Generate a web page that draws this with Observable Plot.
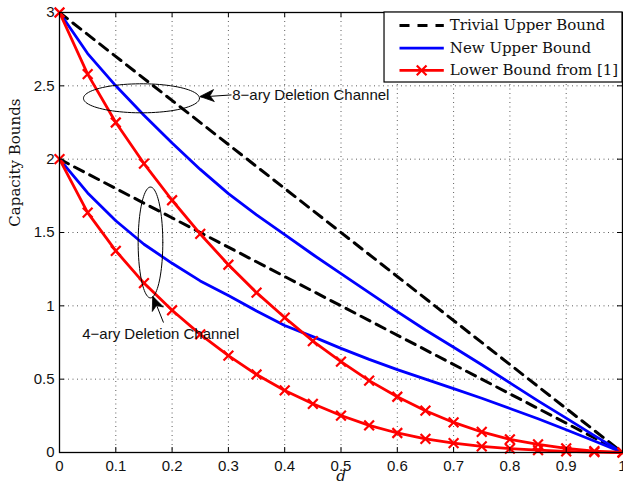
<!DOCTYPE html>
<html>
<head>
<meta charset="utf-8">
<script src="https://cdn.jsdelivr.net/npm/d3@7"></script>
<script src="https://cdn.jsdelivr.net/npm/@observablehq/plot@0.6"></script>
<style>
  html, body { margin: 0; padding: 0; background: #fff; }
</style>
</head>
<body>
<div id="chart"></div>
<script>
// ---------- data ----------
const dValues = [0, 0.05, 0.1, 0.15, 0.2, 0.25, 0.3, 0.35, 0.4, 0.45, 0.5,
                 0.55, 0.6, 0.65, 0.7, 0.75, 0.8, 0.85, 0.9, 0.95, 1];
const trivialD = [0, 1];
const trivial8 = [3, 0];
const trivial4 = [2, 0];
const newUpper8 = [3, 2.72, 2.50, 2.30, 2.11, 1.93, 1.765, 1.62, 1.485, 1.35, 1.22,
                   1.09, 0.96, 0.835, 0.718, 0.598, 0.475, 0.352, 0.234, 0.115, 0];
const newUpper4 = [2, 1.77, 1.58, 1.42, 1.29, 1.17, 1.07, 0.965, 0.866, 0.79, 0.71,
                   0.635, 0.565, 0.50, 0.435, 0.37, 0.30, 0.23, 0.155, 0.078, 0];
const lower8 = [3, 2.58, 2.25, 1.97, 1.72, 1.49, 1.28, 1.09, 0.92, 0.76, 0.62,
                0.49, 0.38, 0.285, 0.205, 0.14, 0.09, 0.055, 0.028, 0.01, 0];
const lower4 = [2, 1.635, 1.375, 1.155, 0.97, 0.805, 0.66, 0.532, 0.423, 0.332, 0.252,
                0.185, 0.133, 0.093, 0.064, 0.042, 0.027, 0.016, 0.008, 0.003, 0];
const xTicks = [0, 0.1, 0.2, 0.3, 0.4, 0.5, 0.6, 0.7, 0.8, 0.9, 1];
const xTickLabels = ["0", "0.1", "0.2", "0.3", "0.4", "0.5", "0.6", "0.7", "0.8", "0.9", "1"];
const yTicks = [0, 0.5, 1, 1.5, 2, 2.5, 3];
const yTickLabels = ["0", "0.5", "1", "1.5", "2", "2.5", "3"];
const legendLabels = ["Trivial Upper Bound", "New Upper Bound", "Lower Bound from [1]"];
const annotationLabels = ["8\u2212ary Deletion Channel", "4\u2212ary Deletion Channel"];
const xLabel = "d";
const yLabel = "Capacity Bounds";

// ---------- layout ----------
const W = 623, H = 490, ML = 59, MR = 1, MT = 12, MB = 38;
const SANS = "'Liberation Sans', Arial, Helvetica, sans-serif";
const SERIF = "'DejaVu Serif', 'Liberation Serif', serif";
const RED = "#ff0000", BLUE = "#0000ff", BLACK = "#000000";

const rows = (ys, xs = dValues) => xs.map((x, i) => ({x, y: ys[i]}));

// annotation geometry in data units
const ell8 = {cx: 0.1456, cy: 2.415, rx: 0.103, ry: 0.099};
const ell4 = {cx: 0.1616, cy: 1.432, rx: 0.0219, ry: 0.378};
const ellipse = e => d3.range(0, 361, 4).map(a => ({
  x: e.cx + e.rx * Math.cos(a * Math.PI / 180),
  y: e.cy + e.ry * Math.sin(a * Math.PI / 180)
}));
const arrows = [
  {x1: 0.3055, y1: 2.438, x2: 0.2504, y2: 2.424},
  {x1: 0.1847, y1: 0.886, x2: 0.1664, y2: 1.062}
];
const annot = [
  {x: 0.3068, y: 2.434, text: annotationLabels[0]},
  {x: 0.0403, y: 0.8045, text: annotationLabels[1]}
];
// legend geometry in data units
const legBox = {x1: 0.5773, x2: 1.0, y1: 2.5227, y2: 3.0};
const legRowsY = [2.911, 2.757, 2.605];
const legLineX = [0.6039, 0.6826];
const legTextX = 0.6932;

const hPlot = H - MT - MB;
const wPlot = W - ML - MR;

const chart = Plot.plot({
  width: W, height: H,
  marginLeft: ML, marginRight: MR, marginTop: MT, marginBottom: MB,
  x: {domain: [0, 1], axis: null},
  y: {domain: [0, 3], axis: null},
  style: {background: "#fff", fontFamily: SANS},
  marks: [
    // grid
    Plot.ruleX(xTicks.slice(1, -1), {stroke: "#333", strokeWidth: 0.8, strokeDasharray: "1,3.5"}),
    Plot.ruleY(yTicks.slice(1, -1), {stroke: "#333", strokeWidth: 0.8, strokeDasharray: "1,3.5"}),
    // trivial upper bounds
    Plot.line(rows(trivial8, trivialD), {x: "x", y: "y", stroke: BLACK, strokeWidth: 3, strokeDasharray: "10,7"}),
    Plot.line(rows(trivial4, trivialD), {x: "x", y: "y", stroke: BLACK, strokeWidth: 3, strokeDasharray: "10,7"}),
    // new upper bounds
    Plot.line(rows(newUpper8), {x: "x", y: "y", stroke: BLUE, strokeWidth: 2.8}),
    Plot.line(rows(newUpper4), {x: "x", y: "y", stroke: BLUE, strokeWidth: 2.8}),
    // lower bounds
    Plot.line(rows(lower8), {x: "x", y: "y", stroke: RED, strokeWidth: 2.8}),
    Plot.line(rows(lower4), {x: "x", y: "y", stroke: RED, strokeWidth: 2.8}),
    Plot.dot(rows(lower8), {x: "x", y: "y", symbol: "times", r: 4.5, stroke: RED, strokeWidth: 2.2}),
    Plot.dot(rows(lower4), {x: "x", y: "y", symbol: "times", r: 4.5, stroke: RED, strokeWidth: 2.2}),
    // annotations
    Plot.line(ellipse(ell8), {x: "x", y: "y", stroke: BLACK, strokeWidth: 1}),
    Plot.line(ellipse(ell4), {x: "x", y: "y", stroke: BLACK, strokeWidth: 1}),
    Plot.link(arrows, {x1: "x1", y1: "y1", x2: "x2", y2: "y2", stroke: BLACK, strokeWidth: 1}),
    Plot.text(annot, {x: "x", y: "y", text: "text", textAnchor: "start", lineAnchor: "middle",
                      fontSize: 15, fontFamily: SANS, fill: "#111"}),
    // frame
    Plot.frame({stroke: BLACK, strokeWidth: 1.3}),
    // inward ticks
    Plot.ruleX(xTicks, {stroke: BLACK, strokeWidth: 1, insetTop: hPlot - 5}),
    Plot.ruleX(xTicks, {stroke: BLACK, strokeWidth: 1, insetBottom: hPlot - 5}),
    Plot.ruleY(yTicks, {stroke: BLACK, strokeWidth: 1, insetRight: wPlot - 5}),
    Plot.ruleY(yTicks, {stroke: BLACK, strokeWidth: 1, insetLeft: wPlot - 5}),
    // tick labels
    Plot.text(xTicks, {x: d => d, frameAnchor: "bottom", dy: 14, lineAnchor: "middle",
                       text: (d, i) => xTickLabels[i], fontSize: 15, fontFamily: SANS, fill: "#111"}),
    Plot.text(yTicks, {y: d => d, frameAnchor: "left", dx: -5, textAnchor: "end", lineAnchor: "middle",
                       text: (d, i) => yTickLabels[i], fontSize: 15, fontFamily: SANS, fill: "#111"}),
    // axis labels
    Plot.text([xLabel], {frameAnchor: "bottom", x: 0.5, dy: 24, lineAnchor: "middle", text: d => d,
                         fontSize: 15, fontFamily: SERIF, fontStyle: "italic", fill: "#111"}),
    Plot.text([yLabel], {frameAnchor: "left", y: 1.54, dx: -44, rotate: -90, lineAnchor: "middle",
                         text: d => d, fontSize: 15, fontFamily: SERIF, fill: "#111"}),
    // legend
    Plot.rect([legBox], {x1: "x1", x2: "x2", y1: "y1", y2: "y2", fill: "#fff", stroke: BLACK, strokeWidth: 1.2}),
    Plot.link([legRowsY[0]], {x1: legLineX[0], x2: legLineX[1], y1: d => d, y2: d => d,
                              stroke: BLACK, strokeWidth: 3, strokeDasharray: "10,8"}),
    Plot.link([legRowsY[1]], {x1: legLineX[0], x2: legLineX[1], y1: d => d, y2: d => d,
                              stroke: BLUE, strokeWidth: 2.8}),
    Plot.link([legRowsY[2]], {x1: legLineX[0], x2: legLineX[1], y1: d => d, y2: d => d,
                              stroke: RED, strokeWidth: 2.8}),
    Plot.dot([legRowsY[2]], {x: (legLineX[0] + legLineX[1]) / 2, y: d => d, symbol: "times", r: 4.5,
                             stroke: RED, strokeWidth: 2.2}),
    Plot.text(legRowsY, {x: legTextX, y: d => d, text: (d, i) => legendLabels[i], textAnchor: "start",
                         lineAnchor: "middle", fontSize: 15, fontFamily: SERIF, fill: "#111"})
  ]
});

document.getElementById("chart").appendChild(chart);

// arrowheads (filled), drawn with the same linear mapping as the plot
const X = d3.scaleLinear([0, 1], [ML, W - MR]);
const Y = d3.scaleLinear([0, 3], [H - MB, MT]);
const svg = d3.select(chart.tagName.toLowerCase() === "svg" ? chart : chart.querySelector("svg"));
arrows.forEach(a => {
  const tx = X(a.x2), ty = Y(a.y2), sx = X(a.x1), sy = Y(a.y1);
  const dx = tx - sx, dy = ty - sy, L = Math.hypot(dx, dy);
  const ux = dx / L, uy = dy / L, px = -uy, py = ux;
  const len = 14, half = 6, notch = 10;
  const bx = tx - ux * len, by = ty - uy * len;
  const nx = tx - ux * notch, ny = ty - uy * notch;
  const p = `M${tx},${ty}L${bx + px * half},${by + py * half}L${nx},${ny}L${bx - px * half},${by - py * half}Z`;
  svg.append("path").attr("d", p).attr("fill", "#000").attr("stroke", "#000").attr("stroke-width", 0.8);
});
</script>
</body>
</html>
